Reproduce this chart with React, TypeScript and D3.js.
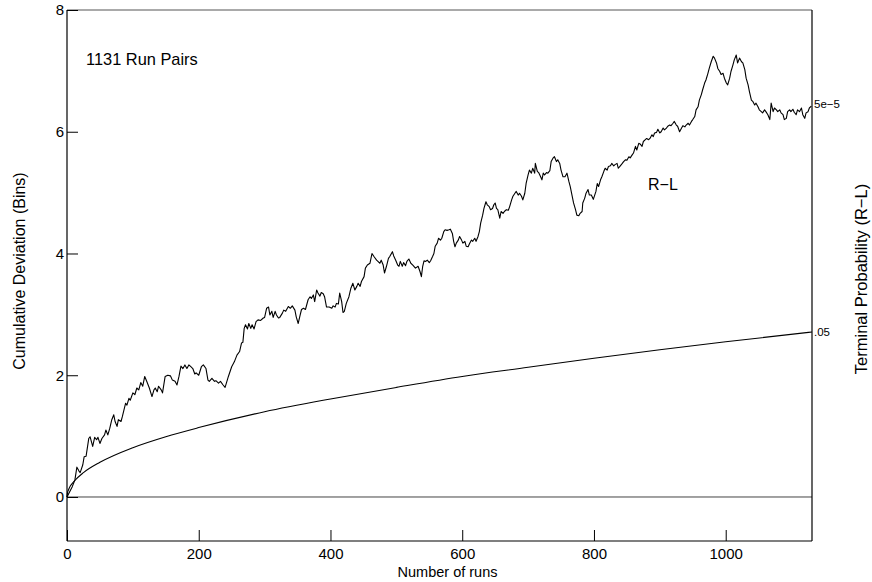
import { useEffect, useRef } from "react";
import * as d3 from "d3";

// cumulative deviation walk (run number, deviation in bins)
const runs = [
  0, 8, 12, 15, 18, 20, 24, 26, 29, 33, 35, 39, 42, 45, 47, 50, 53, 57, 59, 62, 65, 68, 71, 73, 76, 78, 82, 84, 89, 91, 94, 96,
  100, 103, 106, 109, 112, 115, 118, 121, 125, 129, 132, 134, 137, 139, 143, 145, 149, 153, 157, 160, 164, 167, 170, 173, 176,
  179, 182, 185, 188, 191, 194, 196, 200, 204, 207, 211, 214, 216, 220, 224, 226, 230, 233, 237, 240, 245, 250, 254, 258, 262,
  265, 267, 269, 271, 274, 276, 279, 281, 284, 287, 290, 294, 298, 300, 303, 306, 308, 311, 313, 316, 318, 321, 323, 327, 329,
  332, 336, 339, 342, 346, 348, 351, 354, 356, 359, 362, 366, 369, 371, 374, 376, 379, 381, 384, 386, 389, 391, 394, 398, 402,
  404, 407, 409, 412, 414, 417, 419, 421, 424, 428, 431, 434, 437, 440, 442, 445, 447, 451, 453, 456, 460, 463, 466, 470, 472,
  475, 477, 480, 482, 485, 488, 490, 494, 496, 499, 502, 504, 506, 509, 511, 514, 516, 519, 522, 525, 529, 533, 536, 538, 540,
  542, 544, 547, 550, 552, 555, 557, 559, 562, 564, 567, 569, 572, 574, 577, 580, 582, 585, 587, 589, 591, 594, 596, 599, 601,
  604, 606, 609, 611, 614, 616, 619, 621, 624, 626, 628, 631, 633, 636, 638, 641, 643, 646, 648, 650, 652, 654, 657, 659, 662,
  664, 667, 670, 672, 675, 677, 680, 682, 685, 687, 690, 692, 695, 697, 700, 702, 705, 707, 710, 711, 714, 716, 719, 721, 723,
  725, 728, 730, 733, 735, 738, 740, 743, 745, 748, 750, 753, 756, 759, 762, 764, 767, 769, 772, 774, 777, 779, 782, 783, 786,
  788, 791, 793, 796, 799, 803, 805, 807, 810, 812, 815, 817, 820, 822, 825, 827, 830, 832, 835, 837, 840, 843, 845, 848, 850,
  853, 855, 858, 860, 863, 865, 868, 870, 873, 875, 878, 880, 883, 885, 888, 890, 892, 895, 897, 900, 902, 905, 907, 910, 912,
  915, 917, 920, 922, 925, 927, 930, 933, 935, 938, 940, 943, 945, 948, 950, 953, 955, 958, 960, 963, 965, 968, 970, 973, 975,
  978, 981, 983, 986, 988, 991, 993, 996, 998, 1001, 1003, 1006, 1008, 1011, 1013, 1016, 1018, 1021, 1024, 1026, 1029, 1031,
  1034, 1036, 1039, 1041, 1044, 1046, 1049, 1051, 1054, 1056, 1059, 1061, 1064, 1067, 1069, 1072, 1074, 1077, 1079, 1082,
  1084, 1087, 1089, 1092, 1094, 1097, 1099, 1102, 1104, 1107, 1109, 1112, 1115, 1117, 1120, 1122, 1125, 1127, 1130, 1131,
];

const deviation = [
  0, 0.17, 0.28, 0.49, 0.43, 0.4, 0.53, 0.66, 0.67, 0.96, 0.99, 0.83, 0.98, 0.94, 0.98, 0.88, 0.96, 1.02, 1.1, 1.02, 1.13, 1.27,
  1.35, 1.24, 1.16, 1.27, 1.24, 1.32, 1.54, 1.51, 1.62, 1.59, 1.71, 1.68, 1.79, 1.76, 1.88, 1.82, 1.98, 1.9, 1.79, 1.65, 1.76,
  1.79, 1.73, 1.82, 1.76, 1.71, 1.98, 2.0, 1.99, 1.92, 1.9, 1.84, 1.98, 2.15, 2.11, 2.17, 2.11, 2.17, 2.14, 2.11, 2.02, 2.04, 2.0,
  2.14, 2.17, 2.11, 1.92, 1.9, 1.95, 1.9, 1.91, 1.87, 1.9, 1.84, 1.8, 1.98, 2.14, 2.22, 2.33, 2.39, 2.53, 2.54, 2.77, 2.83, 2.76,
  2.85, 2.77, 2.83, 2.76, 2.88, 2.91, 2.9, 2.94, 2.95, 3.1, 3.12, 2.99, 3.05, 2.95, 3.05, 2.99, 2.94, 2.95, 3.02, 3.07, 3.05, 3.13,
  3.1, 3.14, 3.07, 2.96, 2.85, 2.99, 3.08, 3.1, 3.08, 3.24, 3.29, 3.26, 3.32, 3.21, 3.4, 3.35, 3.3, 3.36, 3.34, 3.29, 3.12, 3.12,
  3.1, 3.14, 3.12, 3.18, 3.17, 3.35, 3.21, 3.03, 3.05, 3.18, 3.29, 3.43, 3.51, 3.4, 3.46, 3.51, 3.46, 3.54, 3.62, 3.76, 3.81,
  3.84, 4.0, 3.95, 3.89, 3.87, 3.84, 3.89, 3.81, 3.68, 3.79, 3.92, 3.95, 4.03, 3.96, 3.89, 3.81, 3.79, 3.87, 3.79, 3.85, 3.8,
  3.87, 3.91, 3.84, 3.81, 3.76, 3.79, 3.7, 3.62, 3.79, 3.88, 3.87, 3.89, 3.85, 3.88, 3.95, 4.0, 4.12, 4.17, 4.25, 4.22, 4.25,
  4.36, 4.39, 4.38, 4.39, 4.4, 4.33, 4.2, 4.11, 4.17, 4.22, 4.28, 4.22, 4.17, 4.2, 4.12, 4.11, 4.16, 4.22, 4.2, 4.25, 4.2, 4.28,
  4.36, 4.5, 4.63, 4.74, 4.85, 4.8, 4.77, 4.72, 4.74, 4.8, 4.83, 4.74, 4.72, 4.58, 4.69, 4.66, 4.69, 4.72, 4.71, 4.77, 4.88, 4.94,
  4.99, 5.02, 4.96, 4.99, 4.94, 4.88, 4.99, 5.15, 5.29, 5.37, 5.32, 5.4, 5.32, 5.48, 5.35, 5.33, 5.26, 5.21, 5.32, 5.29, 5.33,
  5.32, 5.36, 5.51, 5.57, 5.59, 5.51, 5.54, 5.48, 5.37, 5.26, 5.26, 5.32, 5.18, 5.1, 4.94, 4.83, 4.72, 4.63, 4.62, 4.66, 4.69,
  4.83, 4.91, 4.99, 5.05, 4.96, 4.96, 4.89, 5.02, 5.15, 5.1, 5.21, 5.26, 5.35, 5.4, 5.37, 5.43, 5.44, 5.48, 5.44, 5.46, 5.48, 5.4,
  5.44, 5.48, 5.51, 5.54, 5.53, 5.59, 5.57, 5.62, 5.65, 5.76, 5.7, 5.81, 5.8, 5.76, 5.84, 5.87, 5.89, 5.87, 5.89, 5.95, 5.92,
  5.98, 5.99, 6.04, 5.98, 6.0, 6.06, 6.03, 6.06, 6.09, 6.11, 6.1, 6.14, 6.17, 6.11, 6.09, 6.0, 6.06, 6.1, 6.08, 6.11, 6.14, 6.11,
  6.17, 6.2, 6.25, 6.36, 6.41, 6.52, 6.61, 6.69, 6.8, 6.85, 6.96, 7.04, 7.15, 7.24, 7.21, 7.13, 7.04, 6.99, 6.94, 6.96, 6.88, 6.8,
  6.77, 6.88, 6.99, 7.1, 7.18, 7.26, 7.13, 7.21, 7.15, 7.13, 7.02, 6.88, 6.77, 6.66, 6.52, 6.5, 6.44, 6.47, 6.41, 6.36, 6.33,
  6.31, 6.36, 6.33, 6.28, 6.2, 6.47, 6.33, 6.39, 6.36, 6.33, 6.36, 6.31, 6.28, 6.2, 6.22, 6.33, 6.36, 6.33, 6.37, 6.32, 6.28,
  6.36, 6.33, 6.39, 6.28, 6.22, 6.31, 6.33, 6.39, 6.42,
];

// p = .05 envelope
const envRuns = [0, 1, 2, 5, 10, 25, 50, 100, 150, 200, 300, 400, 500, 600, 700, 800, 900, 1000, 1131];
const envValues = [0, 0.08, 0.11, 0.18, 0.25, 0.4, 0.57, 0.81, 0.99, 1.14, 1.4, 1.61, 1.8, 1.98, 2.13, 2.28, 2.42, 2.55, 2.71];

const xTicks = [0, 200, 400, 600, 800, 1000];
const yTicks = [0, 2, 4, 6, 8];

const W = 872;
const H = 582;
const FONT = "'Liberation Sans', Arial, Helvetica, sans-serif";

export default function App() {
  const svgRef = useRef<SVGSVGElement>(null);

  useEffect(() => {
    const svg = d3.select(svgRef.current);
    svg.selectAll("*").remove();

    const left = 67, right = 812, top = 10, bottom = 541;

    const x = d3.scaleLinear().domain([0, 1131]).range([left, right]);
    const y = d3.scaleLinear().domain([-0.723, 8]).range([bottom, top]);

    const g = svg.append("g").attr("font-family", FONT);

    // zero line
    g.append("line")
      .attr("x1", left).attr("x2", right)
      .attr("y1", y(0)).attr("y2", y(0))
      .attr("stroke", "#444").attr("stroke-width", 1);

    // envelope
    const envData = envRuns.map((r, i) => [r, envValues[i]] as [number, number]);
    g.append("path")
      .datum(envData)
      .attr("fill", "none")
      .attr("stroke", "#000")
      .attr("stroke-width", 1.1)
      .attr("d", d3.line<[number, number]>().x(d => x(d[0])).y(d => y(d[1])).curve(d3.curveMonotoneX));

    // walk
    const walk = runs.map((r, i) => [r, deviation[i]] as [number, number]);
    g.append("path")
      .datum(walk)
      .attr("fill", "none")
      .attr("stroke", "#000")
      .attr("stroke-width", 1.1)
      .attr("stroke-linejoin", "round")
      .attr("d", d3.line<[number, number]>().x(d => x(d[0])).y(d => y(d[1])));

    // frame
    g.append("line").attr("x1", left).attr("x2", right).attr("y1", top).attr("y2", top)
      .attr("stroke", "#555").attr("stroke-width", 1);
    g.append("line").attr("x1", left).attr("x2", right).attr("y1", bottom).attr("y2", bottom)
      .attr("stroke", "#000").attr("stroke-width", 1.2);
    g.append("line").attr("x1", left).attr("x2", left).attr("y1", top).attr("y2", bottom)
      .attr("stroke", "#000").attr("stroke-width", 1.2);
    g.append("line").attr("x1", right).attr("x2", right).attr("y1", top).attr("y2", bottom)
      .attr("stroke", "#000").attr("stroke-width", 1.2);

    // left axis, ticks point inward
    const yAxis = g.append("g")
      .attr("transform", `translate(${left},0)`)
      .call(d3.axisRight(y).tickValues(yTicks).tickSize(11).tickFormat(d3.format("d")));
    yAxis.select(".domain").remove();
    yAxis.selectAll("line").attr("stroke", "#000");
    yAxis.selectAll("text")
      .attr("x", -3).attr("text-anchor", "end")
      .attr("font-size", 15).attr("font-family", FONT).attr("fill", "#000");

    // bottom axis, ticks point up
    const xAxis = g.append("g")
      .attr("transform", `translate(0,${bottom})`)
      .call(d3.axisTop(x).tickValues(xTicks).tickSize(11).tickFormat(d3.format("d")));
    xAxis.select(".domain").remove();
    xAxis.selectAll("line").attr("stroke", "#000");
    xAxis.selectAll("text")
      .attr("y", 7).attr("dy", "0.71em")
      .attr("font-size", 15).attr("font-family", FONT).attr("fill", "#000");

    // titles
    g.append("text")
      .attr("x", (left + right) / 2 + 8).attr("y", 577)
      .attr("text-anchor", "middle").attr("font-size", 14.5)
      .text("Number of runs");
    g.append("text")
      .attr("transform", `translate(25,271) rotate(-90)`)
      .attr("text-anchor", "middle").attr("font-size", 16)
      .text("Cumulative Deviation (Bins)");
    g.append("text")
      .attr("transform", `translate(867,279) rotate(-90)`)
      .attr("text-anchor", "middle").attr("font-size", 16.5)
      .text("Terminal Probability (R\u2212L)");

    // annotations
    g.append("text").attr("x", 86).attr("y", 65).attr("font-size", 16.4).text("1131 Run Pairs");
    g.append("text").attr("x", 648).attr("y", 190).attr("font-size", 16).text("R\u2212L");
    g.append("text").attr("x", right + 2).attr("y", y(2.71) + 4).attr("font-size", 11.5).text(".05");
    g.append("text").attr("x", right + 2).attr("y", y(6.46) + 4).attr("font-size", 11.5).text("5e\u22125");
  }, []);

  return (
    <svg
      ref={svgRef}
      width={W}
      height={H}
      style={{ position: "absolute", left: 0, top: 0, background: "#fff" }}
    />
  );
}
